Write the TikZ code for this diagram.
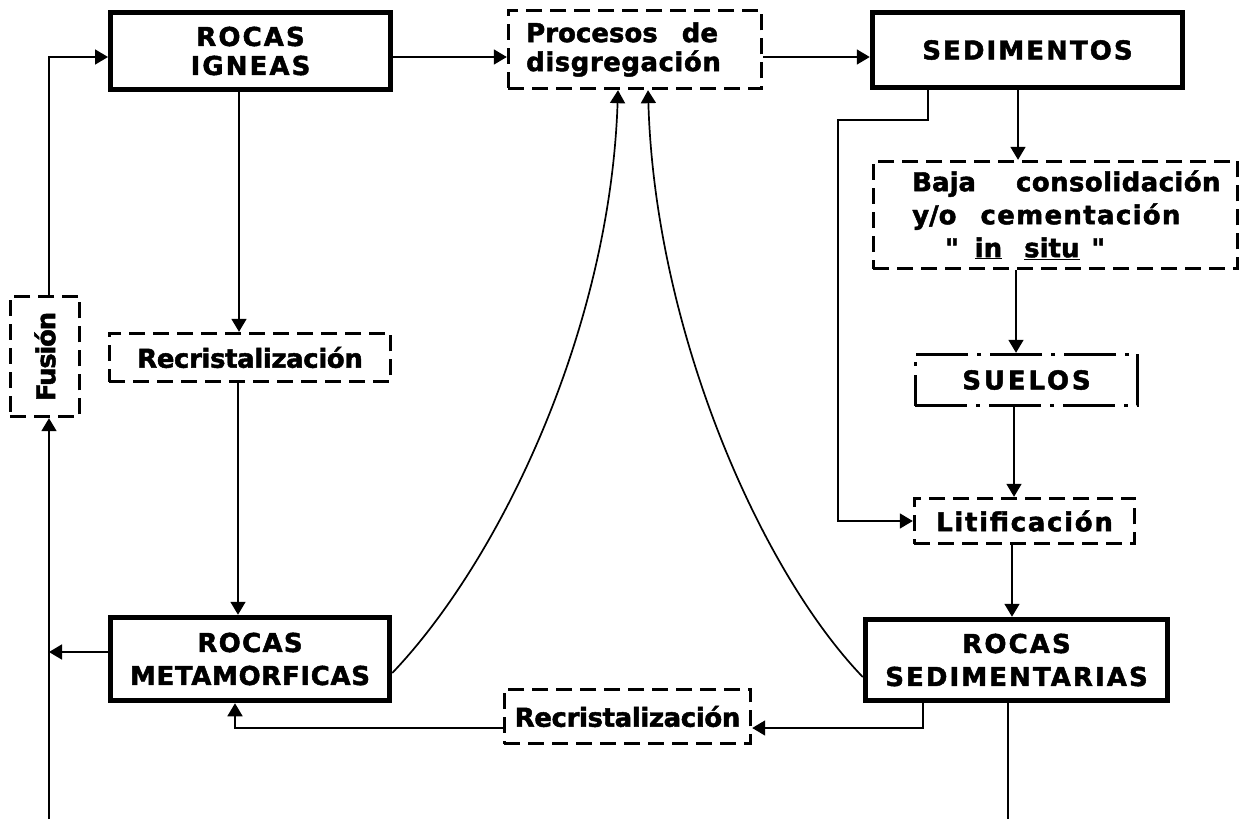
\documentclass[tikz,border=0pt]{standalone}
\usepackage{fontspec}
\usepackage{graphicx}
\setmainfont{DejaVu Sans}[BoldFeatures={FakeBold=1.8}]
\newfontfamily\quotefont{DejaVu Sans}[BoldFeatures={FakeBold=1.8}]
\usetikzlibrary{arrows.meta,calc}
\newcommand\lsp[2]{{\addfontfeature{LetterSpace=#1}#2}}
\newcommand\dq{{\quotefont\bfseries "}}
\begin{document}
\begin{tikzpicture}[x=1pt,y=-1pt,
  lab/.style={font=\bfseries\fontsize{26}{29}\selectfont, align=center, inner sep=0pt},
  labw/.style={font=\bfseries\fontsize{26}{33}\selectfont, align=center, inner sep=0pt},
  thickbox/.style={draw, line width=5pt, inner sep=0pt},
  dashbox/.style={draw, line width=2.8pt, dash pattern=on 16pt off 8pt, inner sep=0pt},
  dotbox/.style={draw, line width=2.8pt, dash pattern=on 52pt off 9pt on 4pt off 9pt, inner sep=0pt},
  arr/.style={line width=1.7pt, -{Triangle[length=13pt,width=15pt]}},
  conn/.style={line width=1.7pt}]
\fill[white] (0,0) rectangle (1247,819);
\useasboundingbox (0,0) rectangle (1247,819);

% boxes
\node[thickbox, lab, minimum width=280pt, minimum height=77pt] (ri) at (250.5,51) {\lsp{8}{ROCAS}\\\lsp{8}{IGNEAS}};
\node[dashbox, minimum width=253.6pt, minimum height=78.6pt] (pd) at (635,49.5) {};
\node[lab, anchor=west, align=left] (pdt) at (526,49.5) {Procesos\hspace{24pt}de\\\lsp{2}{disgregación}};
\node[thickbox, lab, minimum width=310.5pt, minimum height=75.5pt] (sed) at (1027.5,50) {\lsp{8}{SEDIMENTOS}};
\node[dashbox, minimum width=364.6pt, minimum height=107.6pt] (baja) at (1055.5,215) {};
\node[labw, anchor=west, align=left] (bajat) at (912,215) {Baja\hspace{40pt}\lsp{1.5}{consolidación}\\y/o\hspace{24pt}\lsp{5}{cementación}\\\hspace*{33pt}\dq\hspace{16pt}\underline{in}\hspace{22pt}\underline{situ}\hspace{12pt}\dq};
\node[dotbox, lab, minimum width=222.6pt, minimum height=51.6pt] (suelos) at (1026.5,380) {\lsp{11}{SUELOS}};
\node[dashbox, lab, minimum width=220.6pt, minimum height=45.6pt] (lit) at (1024.5,521) {\lsp{6.5}{Litificación}};
\node[thickbox, labw, minimum width=302.5pt, minimum height=81.5pt] (rs) at (1016.5,660) {\lsp{8}{ROCAS}\\\lsp{8}{SEDIMENTARIAS}};
\node[dashbox, lab, minimum width=246.6pt, minimum height=54.6pt] (rec2) at (627.5,716.5) {\lsp{-1.5}{Recristalización}};
\node[thickbox, labw, minimum width=279.5pt, minimum height=83.5pt] (rm) at (250,659) {\lsp{5}{ROCAS}\\\lsp{2.5}{METAMORFICAS}};
\node[dashbox, lab, minimum width=281.6pt, minimum height=48.6pt] (rec1) at (250,357.5) {\lsp{-1.5}{Recristalización}};
\node[dashbox, lab, minimum width=69.6pt, minimum height=120.6pt] (fus) at (45,356.5) {\rotatebox{90}{\lsp{-5}{Fusión}}};

% free ends
\coordinate (k1) at (838,120);
\coordinate (bl) at (49,819);
\coordinate (br) at (1008,819);

% connectors
\draw[arr] ([xshift=4pt]fus.north) |- ([yshift=-6pt]ri.west);
\draw[arr] ([yshift=-6pt]ri.east) -- ([yshift=-6pt]ri.east -| pd.west);
\draw[arr] ([yshift=-6pt]ri.east -| pd.east) -- ([yshift=-6pt]ri.east -| sed.west);
\draw[arr] ([xshift=-11.5pt]ri.south) -- ([xshift=-11.5pt]ri.south |- rec1.north);
\draw[arr] ([xshift=-12pt]rec1.south) -- ([xshift=-12pt]rec1.south |- rm.north);
\draw[arr] ([xshift=-9.5pt]sed.south) -- ([xshift=-9.5pt]sed.south |- baja.north);
\draw[arr] ([xshift=-39.5pt]baja.south) -- ([xshift=-39.5pt]baja.south |- suelos.north);
\draw[arr] ([xshift=-12.5pt]suelos.south) -- ([xshift=-12.5pt]suelos.south |- lit.north);
\draw[arr] ([xshift=-12.5pt]lit.south) -- ([xshift=-12.5pt]lit.south |- rs.north);
\draw[arr] ([xshift=-99.5pt]sed.south) |- (k1) |- (lit.west);
\draw[arr] ([xshift=-93.5pt]rs.south) |- ([yshift=-11.5pt]rec2.east);
\draw[arr] ([yshift=-11.5pt]rec2.west) -| ([xshift=-15pt]rm.south);
\draw[arr] (bl) -- ([xshift=4pt]fus.south);
\draw[arr] ([yshift=7pt]rm.west) -- ([yshift=7pt]rm.west -| bl);
\draw[conn] ([xshift=-8.5pt]rs.south) -- (br);
\draw[arr] ([yshift=-14pt]rm.east) .. controls (500,560) and (610,330) .. ([xshift=-17pt]pd.south);
\draw[arr] ([yshift=-17pt]rs.west) .. controls (760,570) and (655,330) .. ([xshift=13pt]pd.south);
\end{tikzpicture}
\end{document}
